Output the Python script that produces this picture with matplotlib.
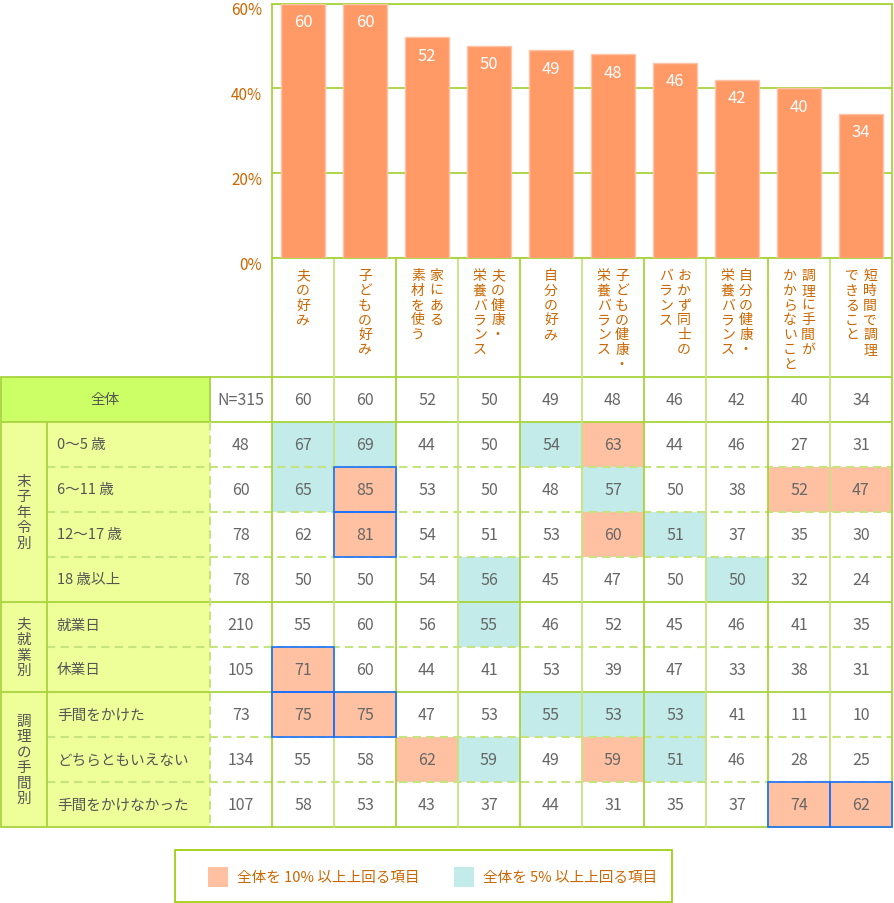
import matplotlib
matplotlib.use('Agg')
import matplotlib.pyplot as plt
from matplotlib.patches import Rectangle
from matplotlib.transforms import ScaledTranslation

plt.rcParams['font.family'] = ['Noto Sans CJK JP', 'DejaVu Sans']

# ---------------- data ----------------
categories = ["夫の好み", "子どもの好み", "家にある\n素材を使う", "夫の健康・\n栄養バランス",
              "自分の好み", "子どもの健康・\n栄養バランス", "おかず同士の\nバランス",
              "自分の健康・\n栄養バランス", "調理に手間が\nかからないこと", "短時間で調理\nできること"]
overall = [60, 60, 52, 50, 49, 48, 46, 42, 40, 34]
overall_n = 315
yticks = [0, 20, 40, 60]

groups = ["末子年令別", "夫就業別", "調理の手間別"]
group_sizes = [4, 2, 3]
row_labels = ["0〜5 歳", "6〜11 歳", "12〜17 歳", "18 歳以上", "就業日", "休業日",
              "手間をかけた", "どちらともいえない", "手間をかけなかった"]
row_n = [48, 60, 78, 78, 210, 105, 73, 134, 107]
values = [
    [67, 69, 44, 50, 54, 63, 44, 46, 27, 31],
    [65, 85, 53, 50, 48, 57, 50, 38, 52, 47],
    [62, 81, 54, 51, 53, 60, 51, 37, 35, 30],
    [50, 50, 54, 56, 45, 47, 50, 50, 32, 24],
    [55, 60, 56, 55, 46, 52, 45, 46, 41, 35],
    [71, 60, 44, 41, 53, 39, 47, 33, 38, 31],
    [75, 75, 47, 53, 55, 53, 53, 41, 11, 10],
    [55, 58, 62, 59, 49, 59, 51, 46, 28, 25],
    [58, 53, 43, 37, 44, 31, 35, 37, 74, 62],
]
# 0 = none, 1 = +10% or more, 2 = +5% or more
highlight = [
    [2, 2, 0, 0, 2, 1, 0, 0, 0, 0],
    [2, 1, 0, 0, 0, 2, 0, 0, 1, 1],
    [0, 1, 0, 0, 0, 1, 2, 0, 0, 0],
    [0, 0, 0, 2, 0, 0, 0, 2, 0, 0],
    [0, 0, 0, 2, 0, 0, 0, 0, 0, 0],
    [1, 0, 0, 0, 0, 0, 0, 0, 0, 0],
    [1, 1, 0, 0, 2, 2, 2, 0, 0, 0],
    [0, 0, 1, 2, 0, 1, 2, 0, 0, 0],
    [0, 0, 0, 0, 0, 0, 0, 0, 1, 1],
]
boxed = [
    [0, 0, 0, 0, 0, 0, 0, 0, 0, 0],
    [0, 1, 0, 0, 0, 0, 0, 0, 0, 0],
    [0, 1, 0, 0, 0, 0, 0, 0, 0, 0],
    [0, 0, 0, 0, 0, 0, 0, 0, 0, 0],
    [0, 0, 0, 0, 0, 0, 0, 0, 0, 0],
    [1, 0, 0, 0, 0, 0, 0, 0, 0, 0],
    [1, 1, 0, 0, 0, 0, 0, 0, 0, 0],
    [0, 0, 0, 0, 0, 0, 0, 0, 0, 0],
    [0, 0, 0, 0, 0, 0, 0, 0, 1, 1],
]
legend_labels = ["全体を 10% 以上上回る項目", "全体を 5% 以上上回る項目"]

# ---------------- style ----------------
BAR = '#ff9966'
BAR_EDGE = '#ffc4a8'
ORANGE_TXT = '#cc6600'
GREEN = '#a8d43c'
GREEN_L = '#c6e47e'
HEAD = '#ccff66'
PALE = '#eeff99'
HL = {1: '#ffc1a1', 2: '#c2ebea'}
BLUE = '#1a6fff'
NUM = '#666666'

W, H = 894, 904
fig = plt.figure(figsize=(W / 100, H / 100), dpi=100)
fig.patch.set_facecolor('white')

pax = fig.add_axes([0, 0, 1, 1])
pax.set_xlim(0, W)
pax.set_ylim(H, 0)
pax.axis('off')

# geometry (pixels)
x_grp0, x_lab0, x_n0, x_d0, cw = 1, 47, 210, 272, 62
x_end = x_d0 + cw * len(categories)
y_axis0, y_top = 259, 4.5
y_tab0, rh = 378, 45

# ---------------- bar chart ----------------
bax = fig.add_axes([x_d0 / W, (H - y_axis0) / H, (x_end - x_d0) / W, (y_axis0 - y_top) / H])
xs = list(range(len(categories)))
bax.bar(xs, overall, width=0.72, color=BAR, edgecolor=BAR_EDGE, linewidth=1, zorder=3)
bax.set_xlim(-0.5, len(categories) - 0.5)
bax.set_ylim(0, 60)
bax.set_yticks(yticks)
bax.set_yticklabels([f"{t}%" for t in yticks], color=ORANGE_TXT, fontsize=11)
bax.tick_params(axis='y', length=0, pad=7)
shift = ScaledTranslation(0, -4 / 100, fig.dpi_scale_trans)
for lab in bax.get_yticklabels():
    lab.set_transform(lab.get_transform() + shift)
bax.set_xticks([])
bax.yaxis.grid(True, color=GREEN, lw=1.3, zorder=0)
for s in bax.spines.values():
    s.set_color(GREEN)
    s.set_linewidth(1.3)
for x, v in zip(xs, overall):
    bax.annotate(str(v), (x, v), xytext=(0, -13), textcoords='offset points',
                 ha='center', va='center', color='white', fontsize=12, zorder=4)

# ---------------- category label area ----------------
for i, cat in enumerate(categories):
    cx = x_d0 + cw * (i + 0.5)
    lines = cat.split('\n')
    offs = [0] if len(lines) == 1 else [9, -9]
    for line, off in zip(lines, offs):
        for j, ch in enumerate(line):
            pax.text(cx + off, 276 + 14.8 * j, ch, ha='center', va='center',
                     fontsize=10, color=ORANGE_TXT)

# ---------------- table ----------------
n_rows = len(row_labels)
y_end = y_tab0 + rh * (n_rows + 1)

pax.add_patch(Rectangle((x_grp0, y_tab0), x_n0 - x_grp0, rh, facecolor=HEAD, edgecolor='none', zorder=1))
pax.add_patch(Rectangle((x_grp0, y_tab0 + rh), x_n0 - x_grp0, rh * n_rows, facecolor=PALE,
                        edgecolor='none', zorder=1))
for r in range(n_rows):
    for c in range(len(categories)):
        h = highlight[r][c]
        if h:
            pax.add_patch(Rectangle((x_d0 + cw * c, y_tab0 + rh * (r + 1)), cw, rh,
                                    facecolor=HL[h], edgecolor='none', zorder=1))

bounds = [0]
for g in group_sizes:
    bounds.append(bounds[-1] + g)
solid_rows = [y_tab0, y_tab0 + rh] + [y_tab0 + rh * (1 + b) for b in bounds[1:]]
for y in solid_rows:
    pax.plot([x_grp0, x_end], [y, y], color=GREEN, lw=1.3, zorder=2, solid_capstyle='butt')
for gi in range(len(group_sizes)):
    for k in range(1, group_sizes[gi]):
        y = y_tab0 + rh * (1 + bounds[gi] + k)
        pax.plot([x_lab0, x_end], [y, y], color=GREEN_L, lw=1.5, ls=(0, (4, 2.5)), zorder=2)

pax.plot([x_grp0, x_grp0], [y_tab0, y_end], color=GREEN, lw=1.3, zorder=2)
pax.plot([x_lab0, x_lab0], [y_tab0 + rh, y_end], color=GREEN, lw=1.3, zorder=2)
pax.plot([x_n0, x_n0], [y_tab0, y_tab0 + rh], color=GREEN, lw=1.3, zorder=2)
pax.plot([x_n0, x_n0], [y_tab0 + rh, y_end], color=GREEN_L, lw=1.5, ls=(0, (4, 2.5)), zorder=2)
for i in range(len(categories) + 1):
    x = x_d0 + cw * i
    pax.plot([x, x], [y_axis0, y_end], color=GREEN if i % 2 == 0 else GREEN_L, lw=1.3, zorder=2)

pax.text((x_grp0 + x_n0) / 2, y_tab0 + rh / 2, "全体", ha='center', va='center', fontsize=10.5, color='#555555', zorder=3)
pax.text((x_n0 + x_d0) / 2, y_tab0 + rh / 2, f"N={overall_n}", ha='center', va='center', fontsize=11.5, color=NUM, zorder=3)
for c, v in enumerate(overall):
    pax.text(x_d0 + cw * (c + 0.5), y_tab0 + rh / 2, str(v), ha='center', va='center', fontsize=11.5, color=NUM, zorder=3)

for gi, g in enumerate(groups):
    yc = y_tab0 + rh * (1 + (bounds[gi] + bounds[gi + 1]) / 2)
    n = len(g)
    for j, ch in enumerate(g):
        pax.text((x_grp0 + x_lab0) / 2, yc + 15.5 * (j - (n - 1) / 2), ch, ha='center', va='center',
                 fontsize=10.5, color='#555555', zorder=3)

for r in range(n_rows):
    yc = y_tab0 + rh * (r + 1.5)
    pax.text(x_lab0 + 10, yc, row_labels[r], ha='left', va='center', fontsize=10.5, color='#555555', zorder=3)
    pax.text((x_n0 + x_d0) / 2, yc, str(row_n[r]), ha='center', va='center', fontsize=11.5, color=NUM, zorder=3)
    for c, v in enumerate(values[r]):
        pax.text(x_d0 + cw * (c + 0.5), yc, str(v), ha='center', va='center', fontsize=11.5, color=NUM, zorder=3)
        if boxed[r][c]:
            pax.add_patch(Rectangle((x_d0 + cw * c, y_tab0 + rh * (r + 1)), cw, rh, facecolor='none',
                                    edgecolor=BLUE, lw=1.2, zorder=4))

# ---------------- legend ----------------
pax.add_patch(Rectangle((175, 851), 497, 52, facecolor='white', edgecolor='#99cc00', lw=1.2, zorder=2))
for k, (lab, key) in enumerate(zip(legend_labels, [1, 2])):
    sx = 208 + 246 * k
    pax.add_patch(Rectangle((sx, 868), 20, 20, facecolor=HL[key], edgecolor='none', zorder=3))
    pax.text(sx + 29, 878, lab, ha='left', va='center', fontsize=10.5, color=ORANGE_TXT, zorder=3)

fig.savefig('out.png', dpi=100, facecolor='white')
